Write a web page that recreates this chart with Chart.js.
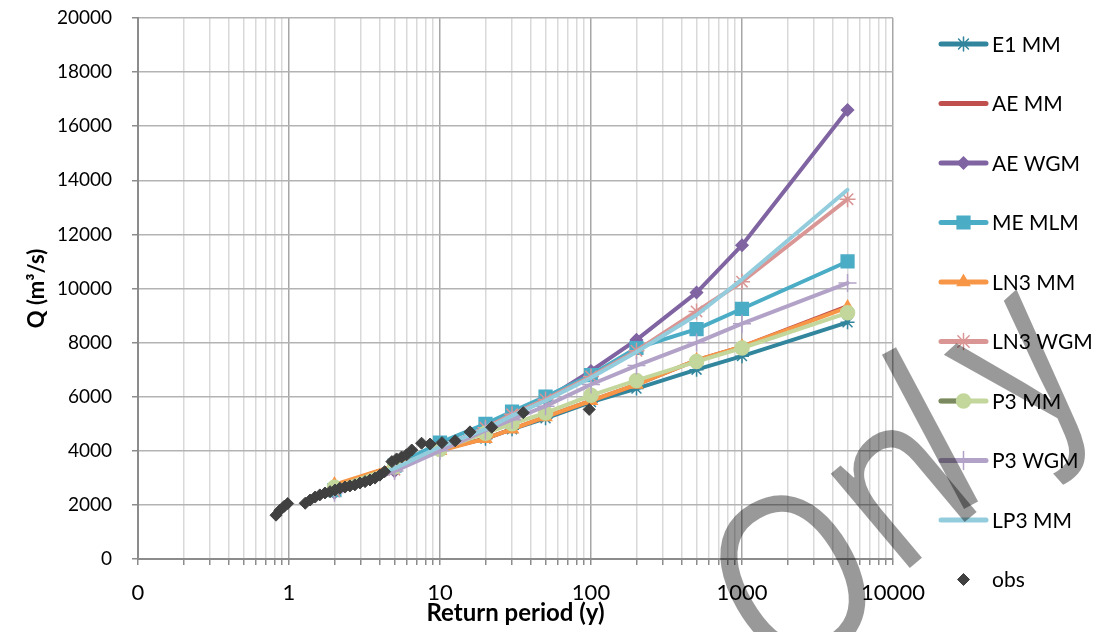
<!DOCTYPE html>
<html>
<head>
<meta charset="utf-8">
<script src="https://cdn.jsdelivr.net/npm/chart.js@4.4.0/dist/chart.umd.min.js"></script>
<style>
  html, body { margin: 0; padding: 0; background: #fff; }
  #wrap { width: 1117px; height: 632px; }
</style>
</head>
<body>
<div id="wrap"><canvas id="grafico" width="1117" height="632"></canvas></div>
<script>
// Periodos de retorno (anos)
const periodos = [2, 5, 10, 20, 30, 50, 100, 200, 500, 1000, 5000];

// Vazões estimadas por distribuição / método (m3/s)
const e1MM   = [2600, 3400, 4050, 4450, 4800, 5200, 5800, 6300, 7000, 7500, 8750];
const aeMM   = [2700, 3450, 4050, 4450, 4800, 5250, 5850, 6450, 7350, 7850, 9350];
const aeWGM  = [2450, 3250, 4100, 4850, 5350, 5900, 6950, 8100, 9850, 11600, 16600];
const meMLM  = [2550, 3450, 4300, 5000, 5450, 6000, 6800, 7800, 8500, 9250, 11000];
const ln3MM  = [2750, 3450, 4000, 4450, 4800, 5250, 5850, 6450, 7350, 7850, 9300];
const ln3WGM = [2500, 3300, 4100, 4850, 5350, 5900, 6750, 7700, 9150, 10250, 13300];
const p3MM   = [2650, 3400, 4050, 4650, 5000, 5400, 6050, 6600, 7300, 7800, 9100];
const p3WGM  = [2450, 3250, 4000, 4750, 5150, 5650, 6450, 7150, 8000, 8700, 10200];
const lp3MM  = [2550, 3350, 4150, 4800, 5300, 5850, 6700, 7650, 9020, 10340, 13650];

// Observados
const obsT = [0.82, 0.87, 0.93, 0.98, 1.28, 1.38, 1.49, 1.60, 1.73, 1.87, 2.02, 2.17, 2.35, 2.53, 2.73, 2.95,
              3.19, 3.44, 3.71, 4.0, 4.3, 4.8, 5.16, 5.57, 6.0, 6.5, 7.55, 8.6, 10.3, 12.6, 15.8, 22.0, 35.6, 97.3];
const obsQ = [1620, 1800, 1950, 2050, 2060, 2180, 2290, 2370, 2440, 2490, 2550, 2620, 2660, 2700, 2740, 2810,
              2860, 2920, 2990, 3100, 3230, 3600, 3700, 3770, 3850, 4030, 4280, 4250, 4300, 4370, 4700, 4870, 5410, 5530];

const yMin = 0, yMax = 20000, yPasso = 2000;
const xMin = 0.1, xMax = 10000;

const FONTE = 'Lato, "Open Sans", sans-serif';

// marca d'água "Only": letras, centros (px) e giro (graus)
const marcaLetras = ['O', 'n', 'l', 'y'];
const marcaCentros = [[793, 577], [903, 492], [930, 428], [1040, 388]];
const marcaGiro = [-30, -40, -28, -42];

function pontos(valores) {
  return periodos.map((t, i) => ({ x: t, y: valores[i] }));
}

function serie(label, valores, cor, estilo, raio, ordem) {
  return {
    label,
    data: pontos(valores),
    showLine: true,
    borderColor: cor,
    backgroundColor: cor,
    borderWidth: 4,
    borderCapStyle: 'round',
    borderJoinStyle: 'round',
    pointStyle: estilo || 'circle',
    pointRadius: estilo ? raio : 0,
    pointHoverRadius: estilo ? raio : 0,
    pointBackgroundColor: cor,
    pointBorderColor: cor,
    pointBorderWidth: 1.5,
    order: ordem
  };
}

const datasets = [
  serie('E1 MM', e1MM, '#31859C', 'star', 7, 10),
  serie('AE MM', aeMM, '#C0504D', null, 0, 9),
  serie('AE WGM', aeWGM, '#8064A2', 'rectRot', 6, 8),
  serie('ME MLM', meMLM, '#4BACC6', 'rect', 9, 7),
  serie('LN3 MM', ln3MM, '#F79646', 'triangle', 7, 6),
  serie('LN3 WGM', ln3WGM, '#D99694', 'star', 8, 5),
  serie('P3 MM', p3MM, '#C3D69B', 'circle', 7, 4),
  serie('P3 WGM', p3WGM, '#B3A2C7', 'cross', 9, 3),
  serie('LP3 MM', lp3MM, '#93CDDD', null, 0, 2),
  {
    label: 'obs',
    data: obsT.map((t, i) => ({ x: t, y: obsQ[i] })),
    showLine: false,
    borderColor: '#404040',
    backgroundColor: '#404040',
    pointStyle: 'rectRot',
    pointRadius: 6,
    pointHoverRadius: 6,
    pointBorderWidth: 1,
    order: 0
  }
];
// no Excel a metade esquerda da linha do P3 MM na legenda sai mais escura
datasets[6].corLegendaEsq = '#7a8960';

function ehDecada(v) {
  const l = Math.log10(v);
  return Math.abs(l - Math.round(l)) < 1e-6;
}

// Legenda desenhada à moda do Excel (linha + marcador)
const legendaExcel = {
  id: 'legendaExcel',
  afterDraw(chart) {
    const ctx = chart.ctx;
    const x0 = 941, x1 = 986, xm = 963.5, xt = 992;
    chart.data.datasets.forEach((ds, i) => {
      const y = 44 + i * 59.5;
      ctx.save();
      if (ds.showLine) {
        ctx.strokeStyle = ds.borderColor;
        ctx.lineWidth = 5;
        ctx.lineCap = 'round';
        ctx.beginPath();
        ctx.moveTo(x0, y);
        ctx.lineTo(x1, y);
        ctx.stroke();
        if (ds.corLegendaEsq) {
          ctx.strokeStyle = ds.corLegendaEsq;
          ctx.beginPath();
          ctx.moveTo(x0, y);
          ctx.lineTo(xm, y);
          ctx.stroke();
        }
      }
      if (ds.pointRadius > 0) {
        ctx.fillStyle = ds.pointBackgroundColor || ds.backgroundColor;
        ctx.strokeStyle = ds.pointBorderColor || ds.borderColor;
        ctx.lineWidth = ds.pointBorderWidth;
        Chart.helpers.drawPoint(ctx, {
          pointStyle: ds.pointStyle,
          rotation: 0,
          radius: ds.pointRadius,
          borderWidth: ds.pointBorderWidth
        }, xm, y);
      }
      ctx.fillStyle = '#000';
      ctx.font = '21px ' + FONTE;
      ctx.textBaseline = 'middle';
      ctx.textAlign = 'left';
      ctx.fillText(ds.label, xt, y + 1);
      ctx.restore();
    });

    // marca d'água, letra a letra
    marcaLetras.forEach((ch, i) => {
      const [cx, cy] = marcaCentros[i];
      ctx.save();
      ctx.translate(cx, cy);
      ctx.rotate(marcaGiro[i] * Math.PI / 180);
      ctx.scale(0.85, 1);
      ctx.font = '230px "Open Sans"';
      ctx.textBaseline = 'alphabetic';
      ctx.textAlign = 'left';
      ctx.fillStyle = 'rgba(0,0,0,0.4)';
      const m = ctx.measureText(ch);
      const L = m.actualBoundingBoxLeft, R = m.actualBoundingBoxRight;
      const A = m.actualBoundingBoxAscent, D = m.actualBoundingBoxDescent;
      ctx.fillText(ch, (L - R) / 2, (A - D) / 2);
      ctx.restore();
    });
  }
};

new Chart(document.getElementById('grafico'), {
  type: 'scatter',
  data: { datasets },
  plugins: [legendaExcel],
  options: {
    responsive: false,
    animation: false,
    devicePixelRatio: 1,
    layout: { padding: { top: 18, right: 224, left: 0, bottom: 0 } },
    plugins: {
      legend: { display: false },
      tooltip: { enabled: false }
    },
    scales: {
      x: {
        type: 'logarithmic',
        min: xMin,
        max: xMax,
        afterFit: s => { s.height = 73; s.paddingLeft = 0; s.paddingRight = 0; },
        afterBuildTicks: s => {
          s.ticks = s.ticks.filter(t => {
            const m = t.value / Math.pow(10, Math.floor(Math.log10(t.value) + 1e-9));
            return Math.abs(m - Math.round(m)) < 1e-6;
          });
        },
        border: { color: '#8c8c8c', width: 2 },
        grid: {
          color: c => (c.tick && ehDecada(c.tick.value)) ? '#a6a6a6' : '#d9d9d9',
          lineWidth: 1.5,
          tickColor: '#8c8c8c',
          tickLength: 6
        },
        ticks: {
          autoSkip: false,
          maxRotation: 0,
          padding: 15,
          color: '#000',
          font: { family: FONTE, size: 22 },
          callback: v => ehDecada(v) ? (v < 1 ? '0' : String(Math.round(v))) : ''
        },
        title: {
          display: true,
          text: 'Return period (y)',
          color: '#000',
          font: { family: FONTE, size: 24, weight: 'bold' },
          padding: { top: 0, bottom: 4 }
        }
      },
      y: {
        min: yMin,
        max: yMax,
        afterFit: s => { s.width = 138; s.paddingTop = 0; s.paddingBottom = 0; },
        border: { color: '#8c8c8c', width: 2 },
        grid: {
          color: '#b3b3b3',
          lineWidth: 1.5,
          tickColor: '#8c8c8c',
          tickLength: 6
        },
        ticks: {
          stepSize: yPasso,
          padding: 20,
          color: '#000',
          font: { family: FONTE, size: 19 },
          callback: v => String(v)
        },
        title: {
          display: true,
          text: 'Q (m³/s)',
          color: '#000',
          font: { family: FONTE, size: 22, weight: 'bold' },
          padding: { top: 24, bottom: 0 }
        }
      }
    }
  }
});
</script>
</body>
</html>
